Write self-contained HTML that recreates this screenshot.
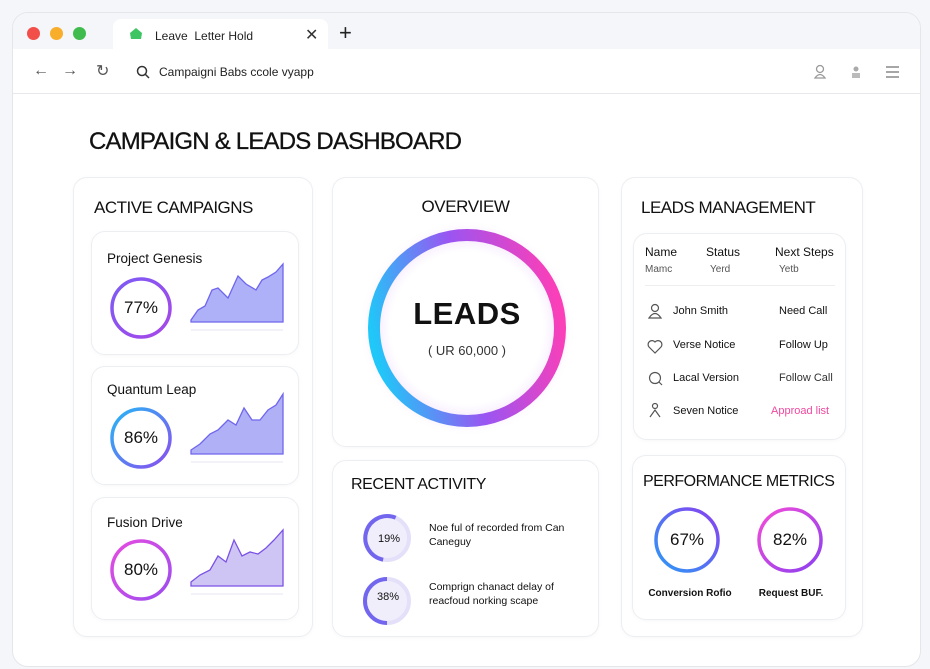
<!DOCTYPE html>
<html><head><meta charset="utf-8"><style>
*{margin:0;padding:0;box-sizing:border-box}
body{width:930px;height:669px;background:#f5f6f9;font-family:"Liberation Sans",sans-serif;color:#111;position:relative;overflow:hidden}
.a{position:absolute}
.card{position:absolute;background:#fff;border:1px solid #eceef2;border-radius:14px;box-shadow:0 1px 4px rgba(0,0,0,.03)}
.t{position:absolute;white-space:nowrap}
</style></head><body>
<div class="a" style="left:12px;top:12px;width:909px;height:655px;background:#fff;border:1px solid #e4e6ea;border-radius:16px;overflow:hidden">
 <div class="a" style="left:0;top:0;width:909px;height:36px;background:#f4f6f9"></div>
 <div class="a" style="left:100px;top:6px;width:215px;height:32px;background:#fff;border-radius:8px 8px 0 0"></div>
 <div class="a" style="left:0;top:36px;width:909px;height:45px;background:#fff;border-bottom:1px solid #e6e8ec"></div>
</div>
<div class="a" style="left:27px;top:27px;width:13px;height:13px;border-radius:50%;background:#f24f4a"></div>
<div class="a" style="left:50px;top:27px;width:13px;height:13px;border-radius:50%;background:#f8ad2b"></div>
<div class="a" style="left:73px;top:27px;width:13px;height:13px;border-radius:50%;background:#3fbc4d"></div>
<svg class="a" style="left:129px;top:27px" width="14" height="14"><path d="M7 1 L13 6 L12 12 L2 12 L1 6Z" fill="#3dc463"/></svg>
<div class="t" style="left:155px;top:29px;font-size:12px;color:#222">Leave&nbsp; Letter Hold</div>
<div class="t" style="left:305px;top:25px;font-size:16px;color:#333">✕</div>
<div class="t" style="left:339px;top:20px;font-size:22px;color:#222">+</div>
<div class="t" style="left:33px;top:62px;font-size:16px;color:#555">←</div>
<div class="t" style="left:62px;top:62px;font-size:16px;color:#555">→</div>
<div class="t" style="left:96px;top:61px;font-size:16px;color:#555">↻</div>
<svg class="a" style="left:136px;top:65px" width="14" height="14"><circle cx="6" cy="6" r="4.5" fill="none" stroke="#333" stroke-width="1.5"/><line x1="9" y1="9" x2="13" y2="13" stroke="#333" stroke-width="1.5"/></svg>
<div class="t" style="left:159px;top:65px;font-size:12px;color:#222">Campaigni Babs ccole vyapp</div>
<svg class="a" style="left:812px;top:63px" width="90" height="18"><circle cx="8" cy="6" r="3.5" fill="none" stroke="#999" stroke-width="1.3"/><path d="M3 15 Q8 8 13 15Z" fill="none" stroke="#999" stroke-width="1.3"/><circle cx="44" cy="6" r="2.5" fill="#aaa"/><rect x="40" y="10" width="8" height="5" fill="#bbb"/><path d="M74 4h13M74 9h13M74 14h13" stroke="#888" stroke-width="1.5"/></svg>

<div class="t" style="left:89px;top:128px;font-size:24px;letter-spacing:-0.8px;color:#111;-webkit-text-stroke:0.3px #111">CAMPAIGN &amp; LEADS DASHBOARD</div>

<div class="card" style="left:73px;top:177px;width:240px;height:460px"></div>
<div class="t" style="left:94px;top:198px;font-size:17px;letter-spacing:-0.5px">ACTIVE CAMPAIGNS</div>
<div class="card" style="left:91px;top:231px;width:208px;height:124px"></div>
<div class="card" style="left:91px;top:366px;width:208px;height:119px"></div>
<div class="card" style="left:91px;top:497px;width:208px;height:123px"></div>
<div class="t" style="left:107px;top:251px;font-size:13.5px">Project Genesis</div>
<div class="t" style="left:107px;top:382px;font-size:13.5px">Quantum Leap</div>
<div class="t" style="left:107px;top:515px;font-size:13.5px">Fusion Drive</div>
<svg class="a" style="left:0;top:0" width="930" height="669">
<defs>
<linearGradient id="g1" x1="0" y1="0" x2="1" y2="1"><stop offset="0" stop-color="#7b5cf5"/><stop offset="1" stop-color="#a746e8"/></linearGradient>
<linearGradient id="g2" x1="0" y1="0" x2="1" y2="1"><stop offset="0" stop-color="#25b8f5"/><stop offset="1" stop-color="#8b4cf0"/></linearGradient>
<linearGradient id="g3" x1="0" y1="0" x2="1" y2="1"><stop offset="0" stop-color="#e64ce0"/><stop offset="1" stop-color="#9b4cf0"/></linearGradient>
<linearGradient id="gb" x1="0" y1="0.6" x2="1" y2="0.4"><stop offset="0" stop-color="#1fc8f8"/><stop offset="0.5" stop-color="#9a55f2"/><stop offset="1" stop-color="#fb3fb8"/></linearGradient>
<linearGradient id="gm1" x1="0" y1="1" x2="1" y2="0"><stop offset="0" stop-color="#2b9af6"/><stop offset="1" stop-color="#8a40f0"/></linearGradient>
<linearGradient id="gm2" x1="0" y1="0" x2="1" y2="1"><stop offset="0" stop-color="#f54cd8"/><stop offset="1" stop-color="#8a40f0"/></linearGradient>
<radialGradient id="glow"><stop offset="0.7" stop-color="#f3e6ff" stop-opacity="0"/><stop offset="0.85" stop-color="#f0d8ff" stop-opacity=".6"/><stop offset="1" stop-color="#fff" stop-opacity="0"/></radialGradient>
</defs>
<circle cx="141" cy="308" r="29" fill="none" stroke="url(#g1)" stroke-width="3.5"/>
<circle cx="141" cy="438" r="29" fill="none" stroke="url(#g2)" stroke-width="3.5"/>
<circle cx="141" cy="570" r="29" fill="none" stroke="url(#g3)" stroke-width="3.5"/>
<path d="M191 320 L198 310 L205 306 L212 290 L218 288 L228 298 L238 276 L246 284 L256 290 L262 280 L268 277 L276 272 L283 264 L283 322 L191 322Z" fill="#aeb0f8" stroke="#6f66ee" stroke-width="1.3"/>
<line x1="191" y1="330" x2="283" y2="330" stroke="#e6e6f2"/>
<path d="M191 450 L200 444 L210 434 L218 430 L228 420 L236 425 L244 408 L252 420 L260 420 L268 410 L276 405 L283 394 L283 454 L191 454Z" fill="#b0b0f6" stroke="#6f66ee" stroke-width="1.3"/>
<line x1="191" y1="462" x2="283" y2="462" stroke="#e6e6f2"/>
<path d="M191 582 L200 575 L210 570 L218 556 L226 562 L234 540 L242 556 L250 552 L258 554 L266 548 L274 540 L283 530 L283 586 L191 586Z" fill="#cfc5f5" stroke="#7a52e6" stroke-width="1.3"/>
<line x1="191" y1="594" x2="283" y2="594" stroke="#e6e6f2"/>
</svg>
<div class="t" style="left:112px;top:298px;width:58px;text-align:center;font-size:17px">77%</div>
<div class="t" style="left:112px;top:428px;width:58px;text-align:center;font-size:17px">86%</div>
<div class="t" style="left:112px;top:560px;width:58px;text-align:center;font-size:17px">80%</div>

<div class="card" style="left:332px;top:177px;width:267px;height:270px"></div>
<div class="t" style="left:332px;top:197px;width:267px;text-align:center;font-size:17px;letter-spacing:-0.4px">OVERVIEW</div>
<svg class="a" style="left:357px;top:218px" width="220" height="220">
<circle cx="110" cy="110" r="108" fill="url(#glow)"/>
<circle cx="110" cy="110" r="93" fill="none" stroke="url(#gb)" stroke-width="12"/>
</svg>
<div class="t" style="left:332px;top:296px;width:270px;text-align:center;font-size:31px;font-weight:bold;letter-spacing:0.5px">LEADS</div>
<div class="t" style="left:332px;top:343px;width:270px;text-align:center;font-size:13px;color:#333">( UR 60,000 )</div>

<div class="card" style="left:332px;top:460px;width:267px;height:177px"></div>
<div class="t" style="left:351px;top:476px;font-size:16px;letter-spacing:-0.4px">RECENT ACTIVITY</div>
<svg class="a" style="left:360px;top:510px" width="60" height="120">
<circle cx="27" cy="28" r="23" fill="#f1eefc"/><circle cx="27" cy="28" r="22" fill="none" stroke="#e4e0fa" stroke-width="4"/>
<path d="M32 6.5 A22 22 0 1 0 27 50" fill="none" stroke="#7266ef" stroke-width="4" transform="rotate(10 27 28)"/>
<circle cx="27" cy="91" r="23" fill="#f1eefc"/><circle cx="27" cy="91" r="22" fill="none" stroke="#e4e0fa" stroke-width="4"/>
<path d="M27 69 A22 22 0 1 0 27 113" fill="none" stroke="#7266ef" stroke-width="4"/>
</svg>
<div class="t" style="left:378px;top:533px;font-size:11px">19%</div>
<div class="t" style="left:377px;top:591px;font-size:11px">38%</div>
<div class="t" style="left:429px;top:521px;font-size:10.5px;line-height:14px">Noe ful of recorded from Can<br>Caneguy</div>
<div class="t" style="left:429px;top:580px;font-size:10.5px;line-height:14px">Comprign chanact delay of<br>reacfoud norking scape</div>

<div class="card" style="left:621px;top:177px;width:242px;height:460px"></div>
<div class="t" style="left:641px;top:198px;font-size:17px;letter-spacing:-0.5px">LEADS MANAGEMENT</div>
<div class="card" style="left:633px;top:233px;width:213px;height:207px"></div>
<div class="t" style="left:645px;top:245px;font-size:12px">Name</div>
<div class="t" style="left:706px;top:245px;font-size:12px">Status</div>
<div class="t" style="left:775px;top:245px;font-size:12px">Next Steps</div>
<div class="t" style="left:645px;top:264px;font-size:10px;color:#555">Mamc</div>
<div class="t" style="left:710px;top:264px;font-size:10px;color:#555">Yerd</div>
<div class="t" style="left:779px;top:264px;font-size:10px;color:#555">Yetb</div>
<div class="a" style="left:645px;top:285px;width:190px;height:1px;background:#eee"></div>
<svg class="a" style="left:646px;top:303px" width="20" height="120">
<circle cx="9" cy="5" r="3.5" fill="none" stroke="#555" stroke-width="1.2"/><path d="M3 15 Q9 6 15 15Z" fill="none" stroke="#555" stroke-width="1.2"/>
<path d="M9 50 L3 44 A3 3 0 0 1 9 39 A3 3 0 0 1 15 44Z" fill="none" stroke="#555" stroke-width="1.2"/>
<circle cx="9" cy="75" r="5.5" fill="none" stroke="#555" stroke-width="1.2"/><line x1="13" y1="79" x2="16" y2="82" stroke="#555" stroke-width="1.2"/>
<circle cx="9" cy="103" r="2.5" fill="none" stroke="#555" stroke-width="1.2"/><path d="M4 114 L9 107 L14 114" fill="none" stroke="#555" stroke-width="1.2"/>
</svg>
<div class="t" style="left:673px;top:305px;font-size:11px">John Smith</div>
<div class="t" style="left:673px;top:339px;font-size:11px">Verse Notice</div>
<div class="t" style="left:673px;top:372px;font-size:11px">Lacal Version</div>
<div class="t" style="left:673px;top:405px;font-size:11px">Seven Notice</div>
<div class="t" style="left:779px;top:305px;font-size:11px">Need Call</div>
<div class="t" style="left:779px;top:339px;font-size:11px">Follow Up</div>
<div class="t" style="left:779px;top:372px;font-size:11px;color:#333">Follow Call</div>
<div class="t" style="left:771px;top:405px;font-size:11px;color:#f0489f">Approad list</div>

<div class="card" style="left:632px;top:455px;width:214px;height:165px"></div>
<div class="t" style="left:643px;top:473px;font-size:16px;letter-spacing:-0.5px">PERFORMANCE METRICS</div>
<svg class="a" style="left:640px;top:500px" width="200" height="80">
<circle cx="47" cy="40" r="31" fill="none" stroke="url(#gm1)" stroke-width="3.5"/>
<circle cx="150" cy="40" r="31" fill="none" stroke="url(#gm2)" stroke-width="3.5"/>
</svg>
<div class="t" style="left:647px;top:530px;width:80px;text-align:center;font-size:17px">67%</div>
<div class="t" style="left:750px;top:530px;width:80px;text-align:center;font-size:17px">82%</div>
<div class="t" style="left:645px;top:588px;width:90px;text-align:center;font-size:10px;font-weight:bold">Conversion Rofio</div>
<div class="t" style="left:746px;top:588px;width:90px;text-align:center;font-size:10px;font-weight:bold">Request BUF.</div>
</body></html>
